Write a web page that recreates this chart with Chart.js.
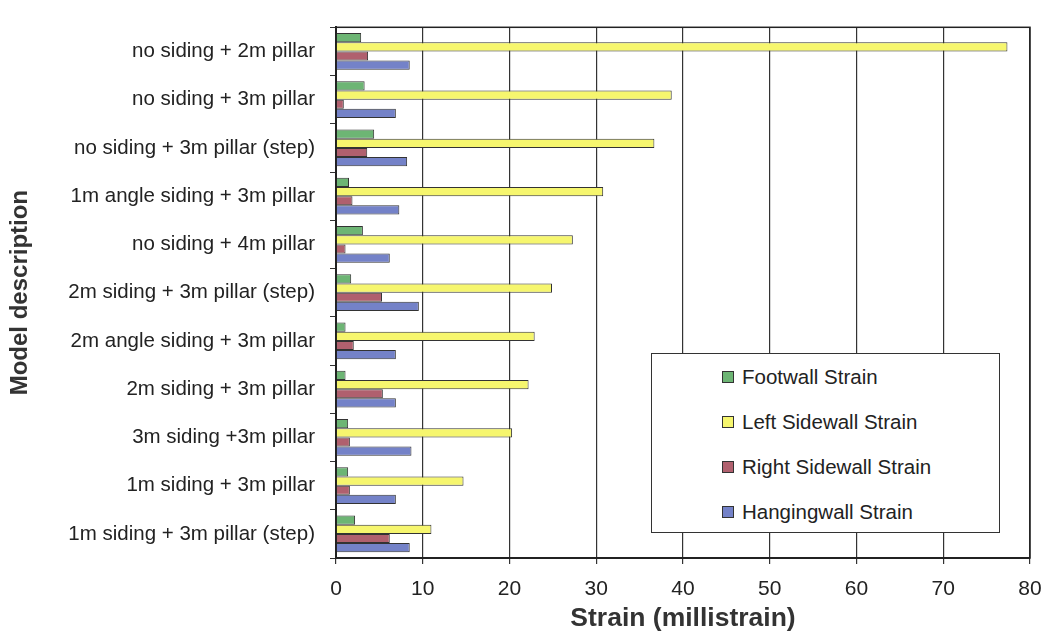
<!DOCTYPE html>
<html>
<head>
<meta charset="utf-8">
<script src="https://cdn.jsdelivr.net/npm/chart.js@4.4.0/dist/chart.umd.min.js"></script>
<style>
    html, body { margin: 0; padding: 0; background: #fff; }
    #wrap { position: relative; width: 1049px; height: 639px; }
    #legend {
        position: absolute; left: 651px; top: 353px; width: 349px; height: 180px;
        border: 1px solid #333; background: #fff; box-sizing: border-box;
        font-family: "Liberation Sans", Arial, sans-serif; font-size: 20.5px; color: #222;
    }
    #legend .item { position: absolute; left: 70px; height: 24px; display: flex; align-items: center; }
    #legend .box { width: 10px; height: 10px; border: 1px solid #333; margin-right: 8px; }
</style>
</head>
<body>
<div id="wrap">
    <canvas id="chart" width="1049" height="639"></canvas>
    <div id="legend"></div>
</div>
<script>
const categories = [
    'no siding + 2m pillar',
    'no siding + 3m pillar',
    'no siding + 3m pillar (step)',
    '1m angle siding + 3m pillar',
    'no siding + 4m pillar',
    '2m siding + 3m pillar (step)',
    '2m angle siding + 3m pillar',
    '2m siding + 3m pillar',
    '3m siding +3m pillar',
    '1m siding + 3m pillar',
    '1m siding + 3m pillar (step)'
];
const footwall = [2.9, 3.3, 4.4, 1.5, 3.1, 1.75, 1.1, 1.1, 1.4, 1.4, 2.2];
const leftSidewall = [77.4, 38.7, 36.7, 30.8, 27.3, 24.9, 22.9, 22.2, 20.3, 14.7, 11.0];
const rightSidewall = [3.7, 0.9, 3.6, 1.9, 1.1, 5.3, 2.05, 5.4, 1.6, 1.6, 6.2];
const hangingwall = [8.5, 6.9, 8.2, 7.3, 6.2, 9.55, 6.9, 6.9, 8.7, 6.9, 8.5];
const xTicks = [0, 10, 20, 30, 40, 50, 60, 70, 80];

const seriesNames = ['Footwall Strain', 'Left Sidewall Strain', 'Right Sidewall Strain', 'Hangingwall Strain'];
const seriesColors = ['#6db574', '#f6f66e', '#b0606e', '#7482c8'];
const seriesData = [footwall, leftSidewall, rightSidewall, hangingwall];

const FONT = '"Liberation Sans", Arial, sans-serif';

// box round the plot area (top and right edges)
const frame = {
    id: 'frame',
    afterDraw(chart) {
        const { ctx, chartArea: a } = chart;
        ctx.save();
        ctx.strokeStyle = '#222';
        ctx.lineWidth = 1.5;
        ctx.strokeRect(a.left, a.top, a.right - a.left, a.bottom - a.top);
        ctx.restore();
    }
};

const chart = new Chart(document.getElementById('chart'), {
    type: 'bar',
    data: {
        labels: categories,
        datasets: seriesNames.map((name, i) => ({
            label: name,
            data: seriesData[i],
            backgroundColor: seriesColors[i],
            borderColor: '#333',
            borderWidth: 1,
            categoryPercentage: 0.76,
            barPercentage: 1.0
        }))
    },
    options: {
        indexAxis: 'y',
        responsive: false,
        animation: false,
        layout: { padding: { top: 12, right: 19, bottom: 0, left: 0 } },
        plugins: { legend: { display: false }, tooltip: { enabled: false } },
        scales: {
            x: {
                min: 0, max: 80,
                afterBuildTicks: (s) => { s.ticks = xTicks.map(v => ({ value: v })); },
                afterFit: (s) => { s.height = 81; s.paddingLeft = 0; s.paddingRight = 0; },
                grid: { color: '#333', lineWidth: 1.2, tickLength: 6, drawTicks: true },
                border: { color: '#222', width: 2 },
                ticks: { color: '#222', padding: 13, font: { family: FONT, size: 21 } },
                title: {
                    display: true, text: 'Strain (millistrain)', color: '#333',
                    font: { family: FONT, size: 26.5, weight: 'bold' },
                    padding: { top: 0, bottom: 4 }
                }
            },
            y: {
                afterFit: (s) => { s.width = 336; },
                grid: { drawOnChartArea: false, drawTicks: true, tickLength: 6, color: '#333' },
                border: { color: '#222', width: 2 },
                ticks: { color: '#222', padding: 15, font: { family: FONT, size: 20.5 } },
                title: {
                    display: true, text: 'Model description', color: '#333',
                    font: { family: FONT, size: 24, weight: 'bold' },
                    padding: { top: 6, bottom: 0 }
                }
            }
        }
    },
    plugins: [frame]
});

// legend drawn as html inside the plot
const legendEl = document.getElementById('legend');
chart.data.datasets.forEach((ds, i) => {
    const item = document.createElement('div');
    item.className = 'item';
    item.style.top = (11 + i * 45) + 'px';
    const box = document.createElement('span');
    box.className = 'box';
    box.style.background = ds.backgroundColor;
    const txt = document.createElement('span');
    txt.textContent = ds.label;
    item.appendChild(box);
    item.appendChild(txt);
    legendEl.appendChild(item);
});
</script>
</body>
</html>
